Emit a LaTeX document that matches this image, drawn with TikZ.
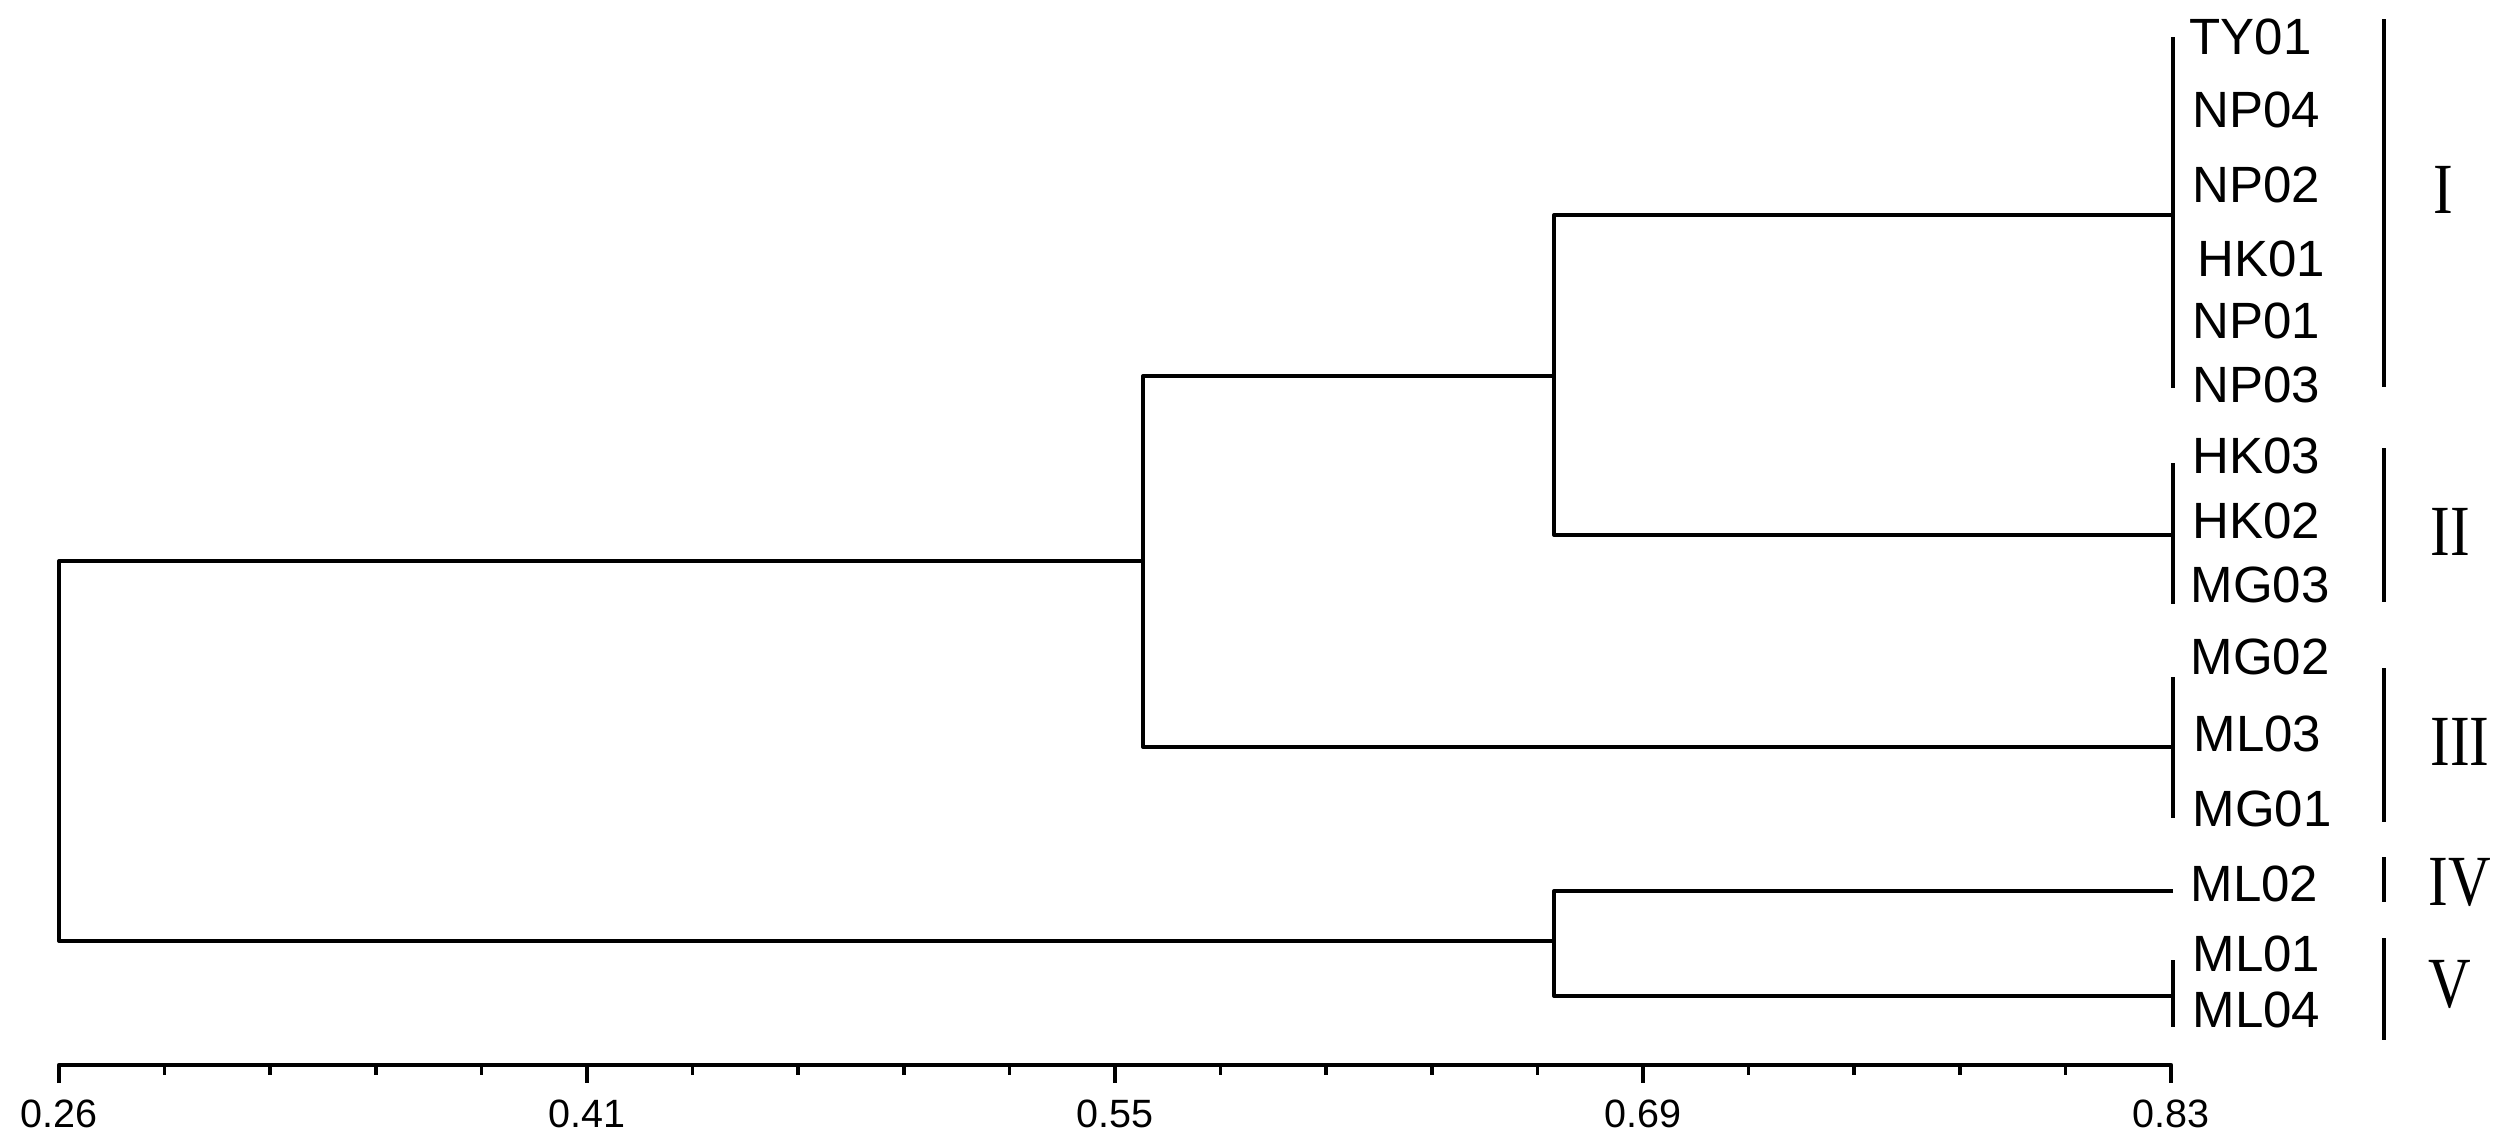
\documentclass[tikz,border=0pt]{standalone}
\usepackage{fontspec}
\newfontfamily\labfont{Liberation Sans}
\newfontfamily\romfont[FakeStretch=0.82]{Liberation Serif}
\begin{document}
\begin{tikzpicture}[x=0.4pt,y=-0.4pt,
  br/.style={line width=1.6pt, line join=round},
  grp/.style={line width=1.8pt},
  leaf/.style={anchor=west, inner sep=0pt, font=\labfont\fontsize{20.4pt}{22pt}\selectfont},
  roman/.style={anchor=west, inner sep=0pt, font=\romfont\fontsize{28.8pt}{32pt}\selectfont},
  axlab/.style={anchor=center, inner sep=0pt, font=\labfont\fontsize{15.8pt}{18pt}\selectfont}]
\useasboundingbox[fill=white] (0,0) rectangle (2500,1147);

% leaf labels
\node[leaf] (TY01) at (2189,37) {TY01};
\node[leaf] (NP04) at (2192,110) {NP04};
\node[leaf] (NP02) at (2192,185) {NP02};
\node[leaf] (HK01) at (2197,259) {HK01};
\node[leaf] (NP01) at (2192,321) {NP01};
\node[leaf] (NP03) at (2192,385) {NP03};
\node[leaf] (HK03) at (2192,456) {HK03};
\node[leaf] (HK02) at (2192,521) {HK02};
\node[leaf] (MG03) at (2190,585) {MG03};
\node[leaf] (MG02) at (2190,657) {MG02};
\node[leaf] (ML03) at (2193,734) {ML03};
\node[leaf] (MG01) at (2192,809) {MG01};
\node[leaf] (ML02) at (2190,884) {ML02};
\node[leaf] (ML01) at (2192,954) {ML01};
\node[leaf] (ML04) at (2192,1010) {ML04};

% junction coordinates
\coordinate (rt) at (59,561);
\coordinate (rb) at (59,941);
\coordinate (m55) at (1143,561);
\coordinate (m55t) at (1143,376);
\coordinate (m55b) at (1143,747);
\coordinate (m66a) at (1554,376);
\coordinate (m66at) at (1554,215);
\coordinate (m66ab) at (1554,535);
\coordinate (m66b) at (1554,941);
\coordinate (m66bt) at (1554,891);
\coordinate (m66bb) at (1554,996);
\coordinate (gI) at (2173,215);
\coordinate (gIt) at (2173,37);
\coordinate (gIb) at (2173,388);
\coordinate (gII) at (2173,535);
\coordinate (gIIt) at (2173,463);
\coordinate (gIIb) at (2173,604);
\coordinate (gIII) at (2173,747);
\coordinate (gIIIt) at (2173,677);
\coordinate (gIIIb) at (2173,818);
\coordinate (gIV) at (2173,891);
\coordinate (gV) at (2173,996);
\coordinate (gVt) at (2173,960);
\coordinate (gVb) at (2173,1027);

% dendrogram
\draw[br] (m55) -- (rt) -- (rb) -- (m66b);
\draw[br] (m66a) -- (m55t) -- (m55b) -- (gIII);
\draw[br] (gI) -- (m66at) -- (m66ab) -- (gII);
\draw[br] (gIV) -- (m66bt) -- (m66bb) -- (gV);
\draw[br] (gIt) -- (gIb);
\draw[br] (gIIt) -- (gIIb);
\draw[br] (gIIIt) -- (gIIIb);
\draw[br] (gVt) -- (gVb);

% group bars
\coordinate (bIt) at (2384,19);   \coordinate (bIb) at (2384,387);
\coordinate (bIIt) at (2384,448); \coordinate (bIIb) at (2384,602);
\coordinate (bIIIt) at (2384,668);\coordinate (bIIIb) at (2384,822);
\coordinate (bIVt) at (2384,857); \coordinate (bIVb) at (2384,902);
\coordinate (bVt) at (2384,938);  \coordinate (bVb) at (2384,1040);
\draw[grp] (bIt) -- (bIb);
\draw[grp] (bIIt) -- (bIIb);
\draw[grp] (bIIIt) -- (bIIIb);
\draw[grp] (bIVt) -- (bIVb);
\draw[grp] (bVt) -- (bVb);

% roman numerals
\node[roman] (RI) at (2433,190) {I};
\node[roman] (RII) at (2430,532) {II};
\node[roman] (RIII) at (2430,742) {III};
\node[roman] (RIV) at (2428,882) {IV};
\node[roman] (RV) at (2428,984) {V};

% axis
\coordinate (ax0) at (59,1065);
\coordinate (ax1) at (2171,1065);
\draw[line width=1.9pt, line join=round] ([yshift=-7.2pt]ax0) -- (ax0) -- (ax1) -- ([yshift=-7.2pt]ax1);
\foreach \i in {1,...,19} {
  \pgfmathsetmacro{\xx}{59+\i*105.6}
  \pgfmathtruncatemacro{\mm}{mod(\i,5)}
  \ifnum\mm=0
    \draw[line width=1.4pt] (\xx,1065) -- (\xx,1083);
  \else
    \draw[line width=1.4pt] (\xx,1065) -- (\xx,1075);
  \fi
}
\node[axlab] (L026) at (59,1114) {0.26};
\node[axlab] (L041) at (587,1114) {0.41};
\node[axlab] (L055) at (1115,1114) {0.55};
\node[axlab] (L069) at (1643,1114) {0.69};
\node[axlab] (L083) at (2171,1114) {0.83};
\end{tikzpicture}
\end{document}
